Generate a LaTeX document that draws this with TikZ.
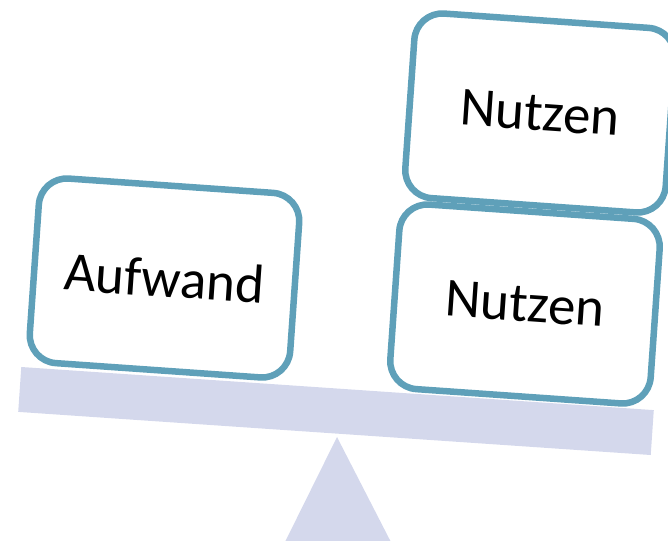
\documentclass[tikz,border=0pt]{standalone}
\usepackage{fontspec}
\setmainfont{Carlito}
\usetikzlibrary{positioning}
\definecolor{boxline}{RGB}{95,160,185}
\definecolor{beamfill}{RGB}{212,216,236}
\tikzset{
	weight/.style={
		draw=boxline, line width=6.5pt, fill=white, rounded corners=28pt,
		minimum width=261pt, minimum height=185pt, rotate=-4,
		font=\fontsize{55pt}{60pt}\selectfont
	}
}

\begin{document}
\begin{tikzpicture}[x=1pt, y=-1pt]
	\clip (0,0) rectangle (668,540);
	\def\tilt{-3.9}
	% fulcrum
	\coordinate (tip) at (337,437);
	\coordinate (baseL) at (282,548);
	\coordinate (baseR) at (394,548);
	\fill[beamfill] (tip) -- (baseL) -- (baseR) -- cycle;
	% beam
	\node[fill=beamfill, minimum width=634pt, minimum height=45pt, rotate=\tilt, inner sep=0pt] (beam) at (336,411) {};
	% weights
	\node[weight] (cost) at (164.5,278) {Aufwand};
	\node[weight] (gain1) at (525,304) {Nutzen};
	\node[weight] (gain2) at (540,113) {Nutzen};
\end{tikzpicture}
\end{document}
